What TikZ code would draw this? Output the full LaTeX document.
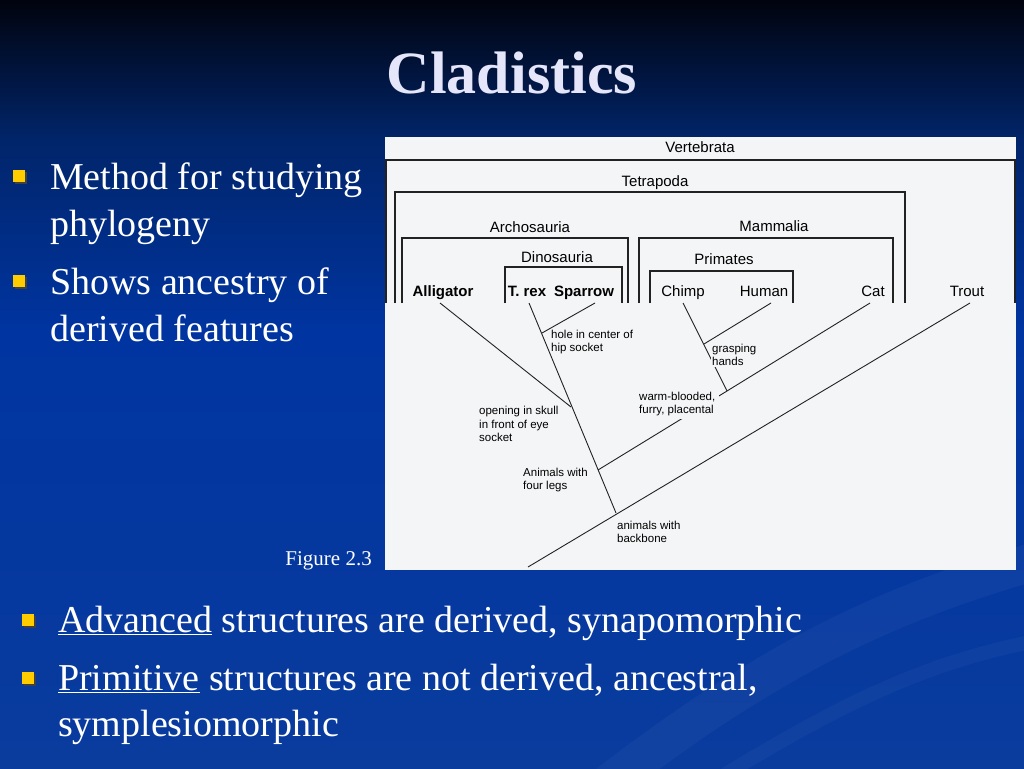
\documentclass[tikz,border=0pt]{standalone}
\usepackage{fontspec}
\setmainfont{Liberation Serif}
\newfontfamily\figfont{Liberation Sans}
\usetikzlibrary{calc,positioning}
\definecolor{SkyTop}{HTML}{01030E}
\definecolor{SkyMid}{HTML}{01256A}
\definecolor{SkyLow}{HTML}{0034A0}
\definecolor{SkyBot}{HTML}{0A3C9E}
\definecolor{Paper}{HTML}{F4F5F7}
\definecolor{Ink}{HTML}{222222}
\definecolor{Gold}{HTML}{FFCC00}
\definecolor{Lilac}{HTML}{E6E6FA}
\NewDocumentCommand{\Bullet}{O{(0,0)}}{
    \begin{scope}[shift={#1}]
    \fill[black!75] (-4,-4) rectangle (8,8);
    \fill[Gold] (-6,-6) rectangle (6,6);
    \end{scope}
}
\NewDocumentCommand{\Clade}{m m m}{
    \draw[cladeline] (#1,303) |- (#3,#2) -- (#3,303);
}
\newcommand{\Canvas}{
\useasboundingbox (0,0) rectangle (1024,768);
\shade[top color=SkyTop, bottom color=SkyMid] (0,0) rectangle (1024,140);
\shade[top color=SkyMid, bottom color=SkyLow] (0,139.5) rectangle (1024,330);
\shade[top color=SkyLow, bottom color=SkyBot] (0,329.5) rectangle (1024,768);
\draw[white, opacity=0.035, line width=38] (600,790) .. controls (780,650) and (900,600) .. (1040,560);
\draw[white, opacity=0.03, line width=14] (700,790) .. controls (860,690) and (940,660) .. (1040,640);

\begin{scope}[name prefix=tip-]
    \coordinate (alligator) at (440,303);
    \coordinate (trex) at (529,303);
    \coordinate (sparrow) at (595,303);
    \coordinate (chimp) at (683,303);
    \coordinate (human) at (771,303);
    \coordinate (cat) at (870,303);
    \coordinate (trout) at (970,303);
\end{scope}

\begin{scope}[name prefix=J-]
    \coordinate (root) at (528,567);
    \coordinate (backbone) at (616,513);
    \coordinate (legs) at (598,470);
    \coordinate (skull) at (571,407);
    \coordinate (hip) at (542,333);
    \coordinate (warm) at (727,391);
    \coordinate (grasp) at (704,344);
\end{scope}
}

\begin{document}
\begin{tikzpicture}[x=1pt, y=-1pt,
    slidetext/.style={text=white, inner sep=0, align=left, anchor=base west,
        font=\fontsize{38}{47}\selectfont},
    cladeline/.style={Ink, line width=1.4},
    branch/.style={Ink, line width=0.9},
    cladename/.style={inner sep=0, anchor=base, font=\figfont\fontsize{15}{15}\selectfont},
    taxon/.style={inner sep=0, anchor=base, font=\figfont\fontsize{15}{15}\selectfont},
    trait/.style={inner sep=0, align=left, anchor=west,
        font=\figfont\fontsize{11.5}{13.5}\selectfont}]
\Canvas

% title and side bullets
\node[font=\bfseries\fontsize{60}{60}\selectfont, text=Lilac, anchor=base] (title) at (512,93) {Cladistics};
\Bullet[(19,176)]
\Bullet[(19,281)]
\node[slidetext] (method) at (50,236) {Method for studying\\phylogeny};
\node[slidetext] (ancestry) at (50,341) {Shows ancestry of\\derived features};

% the figure
\fill[Paper] (385,137) rectangle (1016,570);
\Clade{386}{160}{1015}
\Clade{395}{192}{905}
\Clade{402}{238}{628}
\Clade{505}{267}{622}
\Clade{639}{238}{893}
\Clade{650}{271}{793}

\node[cladename] (vertebrata) at (700,152) {Vertebrata};
\node[cladename] (tetrapoda) at (655,186) {Tetrapoda};
\node[cladename] (archosauria) at (530,232) {Archosauria};
\node[cladename] (dinosauria) at (557,262) {Dinosauria};
\node[cladename] (mammalia) at (774,231) {Mammalia};
\node[cladename] (primates) at (724,264) {Primates};

\node[taxon, font=\figfont\bfseries\fontsize{15}{15}\selectfont] (alligator) at (443,296) {Alligator};
\node[taxon, font=\figfont\bfseries\fontsize{15}{15}\selectfont] (trex) at (527,296) {T. rex};
\node[taxon, font=\figfont\bfseries\fontsize{15}{15}\selectfont] (sparrow) at (584,296) {Sparrow};
\node[taxon] (chimp) at (683,296) {Chimp};
\node[taxon] (human) at (764,296) {Human};
\node[taxon] (cat) at (873,296) {Cat};
\node[taxon] (trout) at (967,296) {Trout};

\draw[branch] (tip-alligator) -- (J-skull);
\draw[branch] (tip-trex) -- (J-backbone);
\draw[branch] (tip-sparrow) -- (J-hip);
\draw[branch] (tip-chimp) -- (J-warm);
\draw[branch] (tip-human) -- (J-grasp);
\draw[branch] (tip-cat) -- (J-warm);
\draw[branch] (J-legs) -- (J-warm);
\draw[branch] (J-root) -- (tip-trout);

\node[trait] (hipsocket) at (551,342) {hole in center of\\hip socket};
\node[trait] (skullgap) at (479,424) {opening in skull\\in front of eye\\socket};
\node[trait] (fourlegs) at (523,480) {Animals with\\four legs};
\node[trait] (backbone) at (617,532) {animals with\\backbone};
\node[trait, fill=Paper, inner sep=1] (hands) at (711,355) {grasping\\hands};
\node[trait, fill=Paper, inner xsep=4, inner ysep=3] (warmblood) at (635,404) {warm-blooded,\\furry, placental};

\node[text=white, inner sep=0, anchor=base east, font=\fontsize{21}{21}\selectfont] (figref) at (372,565) {Figure 2.3};

% bottom bullets
\Bullet[(28,620)]
\Bullet[(28,678)]
\node[slidetext, font=\fontsize{38}{46}\selectfont] (advanced) at (58,632) {\underline{Advanced} structures are derived, synapomorphic};
\node[slidetext, font=\fontsize{38}{46}\selectfont] (primitive) at (58,736) {\underline{Primitive} structures are not derived, ancestral,\\symplesiomorphic};

\end{tikzpicture}
\end{document}
